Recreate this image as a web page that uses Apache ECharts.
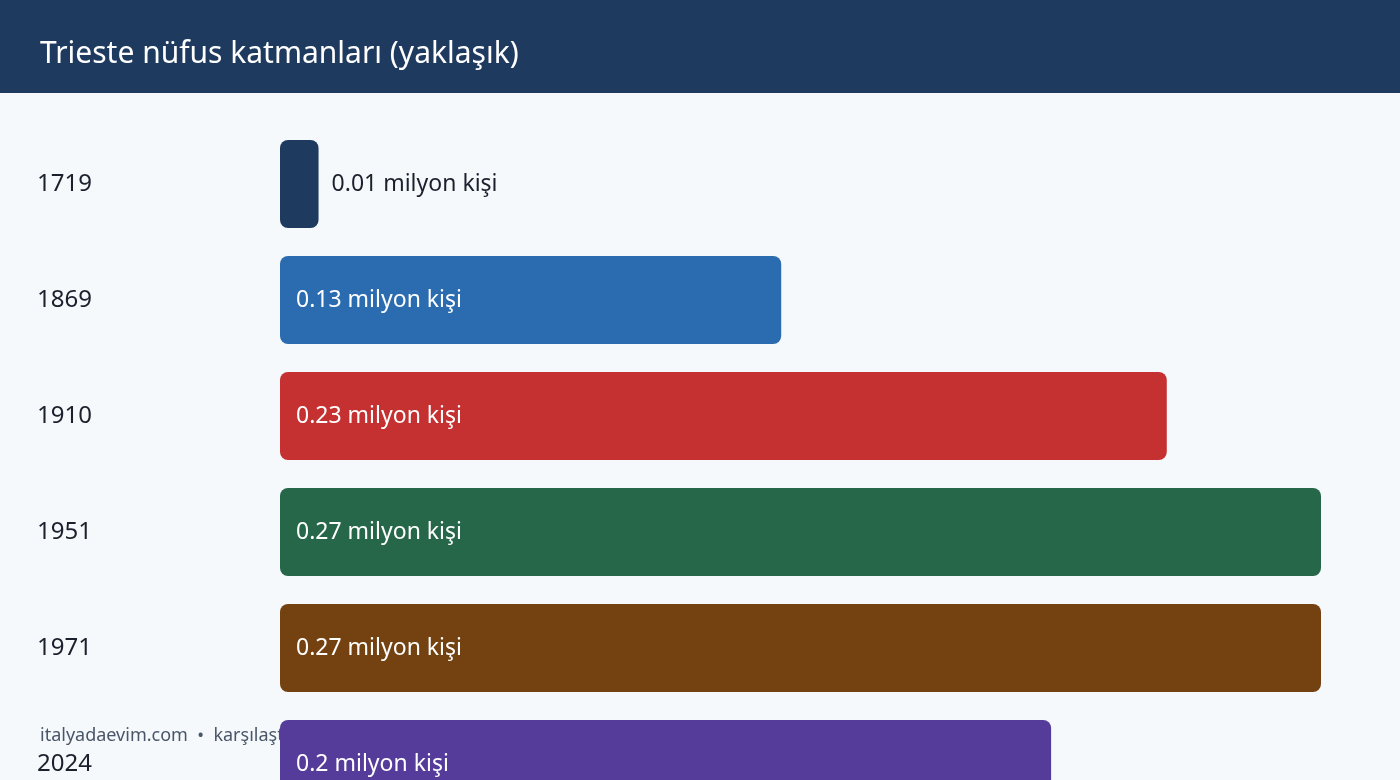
<!DOCTYPE html>
<html>
<head>
<meta charset="utf-8">
<script src="https://cdn.jsdelivr.net/npm/echarts@6/dist/echarts.min.js"></script>
<style>
  html, body { margin: 0; padding: 0; background: #f5f9fc; }
  #chart { width: 1400px; height: 780px; }
</style>
</head>
<body>
<div id="chart"></div>
<script>
// yillar ve nufus (milyon kisi)
var years = ['1719', '1869', '1910', '1951', '1971', '2024'];
var values = [0.01, 0.13, 0.23, 0.27, 0.27, 0.2];
var barColors = ['#1e3a5f', '#2b6cb0', '#c53030', '#276749', '#744210', '#553c9a'];
var unit = ' milyon kişi';

var font = '"Noto Sans", "Open Sans", sans-serif';
var chart = echarts.init(document.getElementById('chart'), null, { renderer: 'canvas' });

var option = {
  backgroundColor: '#f5f9fc',
  animation: false,
  graphic: [
    {
      type: 'rect',
      left: 0, top: 0,
      shape: { width: 1400, height: 93 },
      style: { fill: '#1e3a5f' }
    },
    {
      type: 'text',
      left: 40, top: 39,
      style: { text: 'Trieste nüfus katmanları (yaklaşık)', fill: '#ffffff', font: '30px ' + font }
    },
    {
      type: 'text',
      left: 40, top: 727,
      style: { text: 'italyadaevim.com  •  karşılaştırmalı nüfus', fill: '#4a5568', font: '18px ' + font }
    }
  ],
  grid: { left: 280, right: 79, top: 126, height: 696, outerBoundsMode: 'none', containLabel: false },
  xAxis: {
    type: 'value', min: 0, max: 0.27,
    show: false
  },
  yAxis: {
    type: 'category',
    inverse: true,
    data: years,
    axisLine: { show: false },
    axisTick: { show: false },
    splitLine: { show: false },
    axisLabel: {
      color: '#1a202c', fontSize: 24, fontFamily: font,
      align: 'left', margin: 243, padding: [12, 0, 0, 0]
    }
  },
  series: [{
    type: 'bar',
    barWidth: 88,
    data: values.map(function (v, i) {
      var small = v < 0.03;
      return {
        value: v,
        itemStyle: { color: barColors[i], borderRadius: 8 },
        label: small ? { position: 'right', distance: 13, color: '#1a202c' }
                     : { position: 'insideLeft', distance: 16, color: '#ffffff' }
      };
    }),
    label: {
      show: true, fontSize: 23, fontFamily: font, padding: [2, 0, 0, 0],
      formatter: function (p) { return p.value + unit; }
    }
  }]
};
chart.setOption(option);
</script>
</body>
</html>
